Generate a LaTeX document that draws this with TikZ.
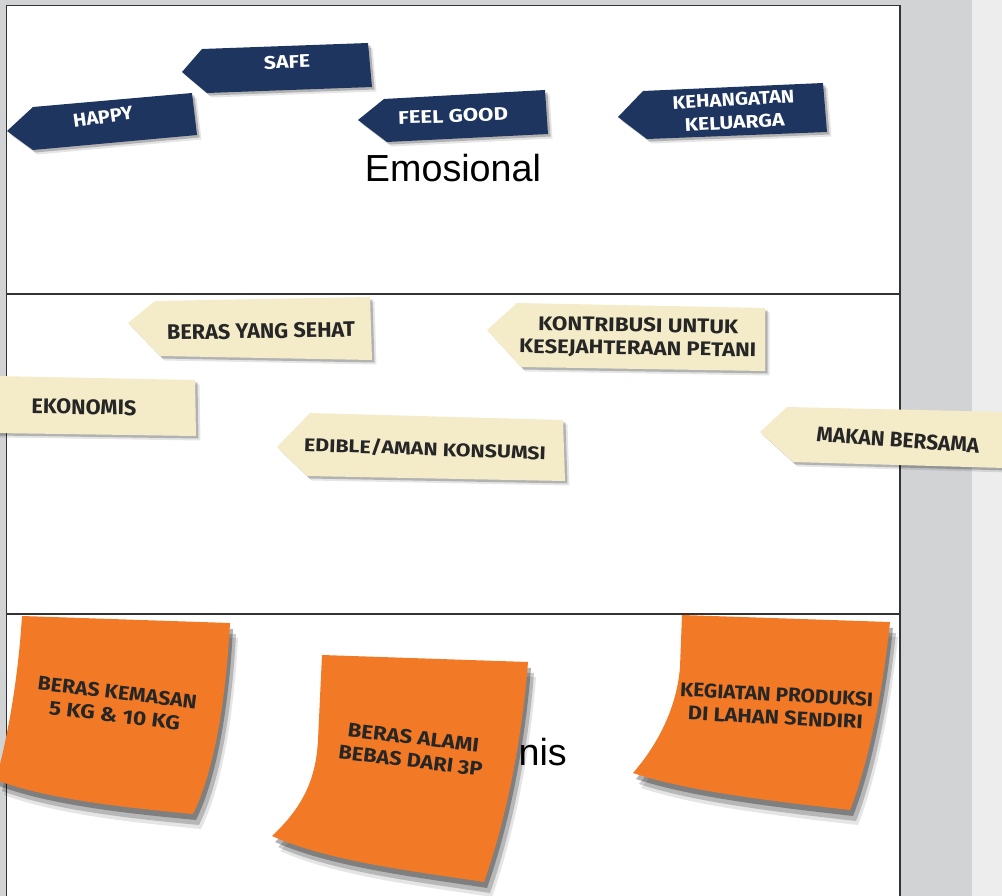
\documentclass[tikz,border=0pt]{standalone}
\usepackage{fontspec}
\setmainfont{Liberation Sans}
\newfontfamily\tagfont{Fira Sans}
\usepackage{graphicx}
\definecolor{navy}{HTML}{1D355F}
\definecolor{beige}{HTML}{F4ECC9}
\definecolor{notecol}{HTML}{F27A26}
\definecolor{panelgray}{HTML}{D2D3D5}
\definecolor{lightgray}{HTML}{EDEDED}
\definecolor{framecol}{HTML}{333333}
\newcommand\tagline[3]{\resizebox{#1pt}{#2pt}{#3}}
\begin{document}
\begin{tikzpicture}[x=1pt,y=-1pt,
  tagshadow/.style={preaction={fill=black,opacity=.10,transform canvas={shift={(4.5,4.5)}}},
                    preaction={fill=black,opacity=.22,transform canvas={shift={(2.5,2.5)}}}},
  navytag/.style={fill=navy,tagshadow},
  beigetag/.style={fill=beige,tagshadow},
  noteshadow/.style={preaction={fill=black,opacity=.10,transform canvas={shift={(8,15)}}},
                     preaction={fill=black,opacity=.20,transform canvas={shift={(6,11)}}},
                     preaction={fill=black,opacity=.30,transform canvas={shift={(3,6)}}}},
  note/.style={fill=notecol,noteshadow},
  tagtext/.style={font=\tagfont\bfseries\fontsize{10}{23}\selectfont,align=center,inner sep=0pt},
  darktext/.style={tagtext,text=black!85},
  lighttext/.style={tagtext,text=white},
  bigtext/.style={font=\fontsize{37.7}{40}\selectfont,inner sep=0pt,text=black},
  frame/.style={draw=framecol,line width=1.5pt}]
\useasboundingbox (0,0) rectangle (1002,896);
% background
\fill[panelgray] (0,0) rectangle (1002,896);
\fill[lightgray] (972,0) rectangle (1002,896);
\fill[white] (6.5,5.5) rectangle (900,896);
\draw[frame] (6.5,896) -- (6.5,5.5) -- (900,5.5) -- (900,896);
\draw[frame] (6.5,294) -- (900,294);
\draw[frame] (6.5,614) -- (900,614);

% section labels
\node[bigtext,anchor=base] (emo) at (453,182) {Emosional};
\node[bigtext,anchor=base east] (tek) at (567,765) {nis};

% navy tags (emotional)
\fill[navytag] (7,131) -- (33,107) -- (192,93) -- (197,135) -- (33,150) -- cycle;
\node[lighttext,rotate=8] (happy) at (103,117) {\tagline{60}{13}{HAPPY}};
\fill[navytag] (182,72) -- (202,49) -- (368,43) -- (372,87) -- (207,93) -- cycle;
\node[lighttext,rotate=2] (safe) at (287,62) {\tagline{46}{13}{SAFE}};
\fill[navytag] (358,120) -- (384,99) -- (545,90) -- (548,134) -- (387,142) -- cycle;
\node[lighttext,rotate=2] (feel) at (453,116) {\tagline{110}{13}{FEEL GOOD}};
\fill[navytag] (618,117) -- (643,91) -- (823,83) -- (827,132) -- (647,139) -- cycle;
\node[lighttext,rotate=3] (kehang) at (734,111) {\tagline{122}{13}{KEHANGATAN}\\\tagline{100}{13}{KELUARGA}};

% beige tags (functional)
\fill[beigetag] (128,323) -- (155,301) -- (370,297) -- (372,360) -- (160,356) -- cycle;
\node[darktext,rotate=1] (sehat) at (261,331) {\tagline{188}{15}{BERAS YANG SEHAT}};
\fill[beigetag] (487,330) -- (517,303) -- (765,308) -- (765,371) -- (521,367) -- cycle;
\node[darktext,rotate=-1] (kontri) at (638,338) {\tagline{200}{14}{KONTRIBUSI UNTUK}\\\tagline{237}{14}{KESEJAHTERAAN PETANI}};
\fill[beigetag] (-5,376) -- (195,380) -- (196,436) -- (-5,433) -- cycle;
\node[darktext,rotate=-1] (ekon) at (84,407) {\tagline{105}{15}{EKONOMIS}};
\fill[beigetag] (277,447) -- (310,413) -- (563,420) -- (565,481) -- (307,476) -- cycle;
\node[darktext,rotate=-2] (edible) at (425,449) {\tagline{242}{15}{EDIBLE/AMAN KONSUMSI}};
\fill[beigetag] (760,432) -- (787,407) -- (1005,412) -- (1005,468) -- (793,462) -- cycle;
\node[darktext,rotate=-4] (makan) at (898,440) {\tagline{163}{15}{MAKAN BERSAMA}};

% orange sticky notes (technical)
\fill[note] (22,616) -- (230,623) .. controls (226,700) and (214,772) .. (193,814)
  .. controls (130,808) and (50,800) .. (-4,780) .. controls (8,735) and (18,680) .. (22,616) -- cycle;
\node[darktext,rotate=-7] (kemasan) at (116,704) {\tagline{160}{14}{BERAS KEMASAN}\\\tagline{132}{14}{5 KG \& 10 KG}};
\fill[note] (322,655) -- (528,662) .. controls (522,740) and (506,820) .. (484,882)
  .. controls (420,872) and (330,862) .. (272,836) .. controls (302,808) and (316,780) .. (318,740) -- cycle;
\node[darktext,rotate=-7] (alami) at (412,749) {\tagline{132}{14}{BERAS ALAMI}\\\tagline{145}{14}{BEBAS DARI 3P}};
\fill[note] (682,615) -- (890,622) .. controls (882,700) and (866,770) .. (850,810)
  .. controls (780,802) and (690,792) .. (633,773) .. controls (660,742) and (677,705) .. (680,667) -- cycle;
\node[darktext,rotate=-3] (kegiatan) at (776,706) {\tagline{193}{14}{KEGIATAN PRODUKSI}\\\tagline{175}{14}{DI LAHAN SENDIRI}};
\end{tikzpicture}
\end{document}
